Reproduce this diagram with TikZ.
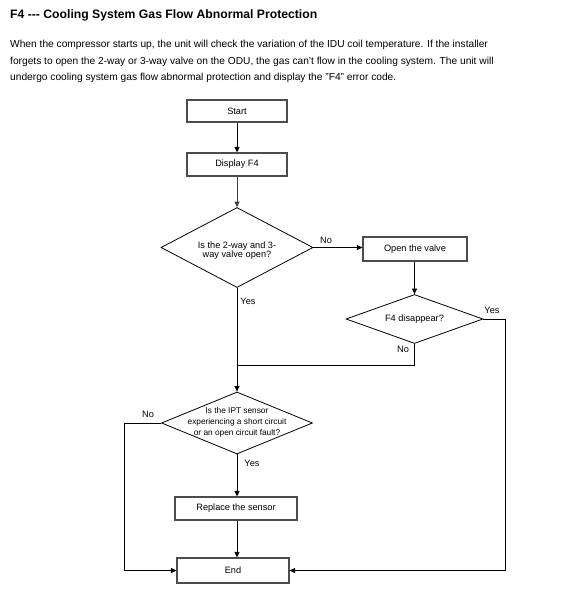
\documentclass[tikz,border=0pt]{standalone}
\usepackage{fontspec}
\setmainfont{Liberation Sans}
\usetikzlibrary{arrows.meta,shapes.geometric}
\begin{document}
\begin{tikzpicture}[x=1pt,y=-1pt,
  box/.style={draw=black!70, line width=1.1pt, inner sep=0pt, font=\fontsize{9.2}{10}\selectfont},
  dia/.style={draw, line width=0.8pt, diamond, inner sep=0pt},
  txt/.style={font=\fontsize{9.2}{9.7}\selectfont, align=center, inner sep=0pt},
  lbl/.style={font=\fontsize{9.2}{10}\selectfont, inner sep=0pt},
  para/.style={anchor=base west, inner sep=0pt, font=\fontsize{10.2}{12}\selectfont},
  line/.style={line width=0.8pt},
  arr/.style={line width=0.8pt, -{Triangle[length=5.5pt,width=5pt]}}]
\useasboundingbox (0,0) rectangle (587,603);
\fill[white] (0,0) rectangle (587,603);
% title and text
\node[anchor=base west, inner sep=0pt, font=\fontsize{12.2}{14}\selectfont\bfseries] (title) at (10,18.3) {F4 -{}-{}- Cooling System Gas Flow Abnormal Protection};
\node[para] (p1) at (10,47.7) {When the compressor starts up, the unit will check the variation of the IDU coil temperature. If the installer};
\node[para] (p2) at (10,64) {forgets to open the 2-way or 3-way valve on the ODU, the gas can't flow in the cooling system. The unit will};
\node[para] (p3) at (10,80.3) {undergo cooling system gas flow abnormal protection and display the "F4" error code.};
% nodes
\node[box, minimum width=100pt, minimum height=22pt] (start) at (237,111) {Start};
\node[box, minimum width=100pt, minimum height=23pt] (disp) at (237,164.5) {Display F4};
\node[dia, minimum width=152pt, minimum height=80pt] (d1) at (237,247.5) {};
\node[txt] (d1t) at (237,250.5) {Is the 2-way and 3-\\way valve open?};
\node[box, minimum width=104pt, minimum height=24pt] (open) at (415,249) {Open the valve};
\node[dia, minimum width=137pt, minimum height=49pt] (d2) at (414.5,319) {};
\node[txt] (d2t) at (414.5,319) {F4 disappear?};
\coordinate (j) at (237,365);
\node[dia, minimum width=151pt, minimum height=62pt] (d3) at (237,423) {};
\node[txt, font=\fontsize{8.3}{10.8}\selectfont] (d3t) at (237,422.5) {Is the IPT sensor\\experiencing a short circuit\\or an open circuit fault?};
\node[box, minimum width=122pt, minimum height=23pt] (rep) at (236,508.5) {Replace the sensor};
\node[box, minimum width=112pt, minimum height=25pt] (end) at (233,570.5) {End};
\coordinate (rc) at (505,319);
\coordinate (lc) at (124,423);
% connectors
\draw[arr] (start.south) -- (disp.north);
\draw[arr, draw=black!75] (disp.south) -- (d1.north);
\draw[arr] (d1.east) -- (d1.east -| open.west);
\node[lbl] (no1) at (326,240) {No};
\draw[arr] (open.south -| d2.north) -- (d2.north);
\draw[line] (d2.south) -- (d2.south |- j) -- (j);
\node[lbl] (no2) at (403,349.5) {No};
\draw[line] (d1.south) -- (j);
\node[lbl] (yes1) at (248,301.5) {Yes};
\draw[arr] (j) -- (d3.north);
\draw[line] (d2.east) -- (rc);
\draw[arr] (rc) |- (end.east);
\node[lbl] (yes2) at (492,310) {Yes};
\draw[line] (d3.west) -- (lc);
\draw[arr] (lc) |- (end.west);
\node[lbl] (no3) at (148,414) {No};
\draw[arr] (d3.south) -- (rep.north -| d3.south);
\node[lbl] (yes3) at (252,463) {Yes};
\draw[arr] (rep.south -| d3.south) -- (end.north -| d3.south);
\end{tikzpicture}
\end{document}
